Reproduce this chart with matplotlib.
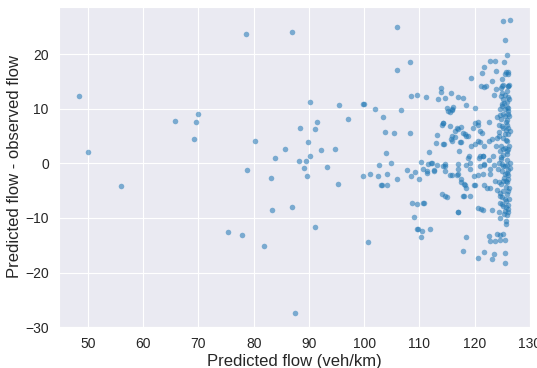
import matplotlib
matplotlib.use("Agg")
import matplotlib.pyplot as plt
import numpy as np
import seaborn as sns

# predicted flow (veh/km) and residual (predicted - observed)
pred_left = [48.4, 50.1, 56.0, 65.7, 70.0, 69.5, 69.2, 78.6, 80.2, 78.8, 75.4, 77.9, 81.9]
resid_left = [12.4, 2.1, -4.2, 7.8, 9.0, 7.6, 4.4, 23.6, 4.0, -1.2, -12.5, -13.2, -15.2]

pred_mid = [86.9, 105.9, 108.3, 106.0, 87.5, 90.2, 95.4, 99.7, 99.9, 101.9,
            106.6, 97.0, 103.4, 91.5, 91.1, 88.4, 103.8, 105.4, 108.3, 89.8,
            85.7, 92.2, 94.7, 103.9, 90.2, 83.8, 88.2, 89.5, 89.1, 93.2,
            102.7, 104.9, 83.2, 89.6, 99.8, 101.0, 102.5, 104.1, 106.0, 103.0,
            103.2, 104.1, 95.3, 83.4, 86.9, 91.1, 100.6, 107.7, 108.5, 109.2,
            110.3, 109.9, 110.7, 111.4, 112.1, 111.7, 112.7, 108.6, 109.5, 110.6,
            110.8, 109.1, 109.6, 109.8, 110.3, 110.4, 111.9, 108.5, 109.6, 111.2,
            111.6, 112.2, 111.3]
resid_mid = [24.0, 24.9, 18.5, 17.1, -27.4, 11.2, 10.6, 10.8, 10.8, 10.0,
             9.7, 8.1, 8.4, 7.5, 6.2, 6.4, 5.8, 5.5, 5.5, 3.9,
             2.7, 2.4, 2.7, 1.9, 1.3, 1.0, 0.4, 0.5, -0.9, -0.7,
             -0.3, 0.0, -2.6, -2.3, -2.3, -2.0, -2.4, -2.0, -2.9, -4.0,
             -4.0, -3.9, -3.7, -8.6, -8.0, -11.7, -14.4, -1.2, -2.4, -1.6,
             0.3, -2.9, -1.1, -1.7, 0.0, 2.0, -1.3, -7.2, -7.4, -7.2,
             -7.2, -9.8, -12.1, -12.1, -13.5, -12.4, -12.0, 12.4, 12.6, 12.2,
             -0.2, 0.1, -1.4]

pred_right = [122.7, 123.7, 121.7, 119.4, 121.4, 123.8, 123.1, 121.1, 121.6, 122.0,
              123.8, 113.9, 113.9, 114.7, 115.7, 117.0, 117.8, 113.3, 118.5, 120.0,
              114.9, 116.1, 115.9, 115.5, 120.1, 120.6, 122.5, 119.6, 114.3, 114.1,
              115.6, 116.7, 117.5, 113.1, 115.9, 116.4, 117.9, 118.5, 121.0, 121.4,
              114.3, 115.8, 117.6, 121.0, 121.6, 122.5, 123.2, 123.8, 117.2, 119.0,
              120.8, 120.9, 121.5, 119.1, 122.5, 123.3, 113.1, 114.3, 114.7, 117.0,
              118.5, 121.6, 121.7, 123.5, 115.5, 115.8, 116.7, 117.0, 119.9, 120.6,
              121.5, 122.8, 117.5, 118.0, 120.1, 121.7, 122.3, 122.8, 114.1, 114.7,
              118.1, 119.1, 120.6, 121.1, 123.2, 116.9, 118.4, 117.8, 120.5, 121.7,
              122.6, 122.8, 124.0, 123.7, 123.4, 123.2, 115.2, 115.8, 114.3, 117.0,
              116.4, 114.5, 115.7, 117.3, 118.2, 118.8, 120.6, 119.4, 120.0, 120.6,
              112.7, 114.6, 114.6, 117.0, 117.6, 118.2, 118.5, 119.1, 118.8, 119.9,
              120.9, 121.5, 114.9, 117.9, 117.0, 121.5, 122.8, 123.7, 113.0, 123.4]
resid_right = [18.8, 18.8, 17.7, 15.7, 16.5, 17.0, 15.0, 14.1, 13.9, 14.1,
               13.7, 13.8, 13.0, 11.9, 12.8, 12.2, 12.0, 11.8, 10.6, 10.2,
               10.2, 10.3, 9.8, 9.4, 7.3, 7.0, 7.5, 6.5, 7.3, 7.0,
               6.8, 6.5, 6.7, 5.2, 5.0, 4.8, 5.5, 5.0, 5.9, 5.6,
               3.5, 4.1, 3.9, 3.9, 3.2, 4.1, 4.4, 3.2, 2.3, 1.3,
               1.0, 1.3, 1.3, 0.1, 0.7, 1.3, -0.3, -0.4, -0.1, -0.2,
               -0.3, -0.3, -0.1, -0.3, -2.2, -2.2, -2.2, -2.0, -2.3, -2.2,
               -2.0, -2.0, -3.4, -3.7, -4.0, -4.0, -4.5, -4.5, -5.7, -6.0,
               -6.0, -5.9, -8.1, -8.4, -8.6, -8.9, -13.5, -16.0, -17.4, -16.3,
               -13.3, -14.3, -13.0, -14.3, -16.6, -17.6, 9.6, 9.9, 7.3, 6.2,
               5.9, 3.5, 4.4, 3.9, 5.3, 5.0, 7.5, 3.2, 3.5, 4.1,
               -1.4, -0.4, -1.4, -1.1, -2.9, -3.9, -4.5, -1.1, 1.0, -4.0,
               -0.5, -8.6, -6.1, -6.0, -9.0, 1.3, -1.0, -3.2, 3.7, 12.5]

# dense column near the capacity limit
pred_col = [125.1, 126.3, 125.5, 125.8, 125.3, 125.7, 126.0, 125.5, 126.0, 125.0,
            125.2, 126.0, 126.1, 124.8, 124.7, 125.2, 126.2, 125.5, 124.9, 126.0,
            125.8, 124.5, 125.5, 126.1, 125.2, 126.0, 125.0, 125.8, 124.9, 124.1,
            124.8, 125.5, 126.2, 125.9, 124.6, 124.4, 125.2, 125.9, 126.1, 124.9,
            125.6, 125.4, 124.4, 125.2, 126.0, 125.7, 124.0, 124.7, 125.4, 126.0,
            124.6, 125.9, 125.1, 126.2, 124.4, 126.3, 125.5, 124.9, 125.8, 125.2,
            125.9, 124.9, 125.8, 126.1, 125.4, 124.4, 125.2, 125.8, 126.1, 124.8,
            125.6, 124.1, 125.2, 126.1, 124.6, 125.5, 126.2, 125.9, 124.6, 125.2,
            126.1, 124.9, 125.7, 124.4, 125.4, 126.1, 124.6, 125.9, 125.7, 124.6,
            125.2, 125.5, 124.5, 125.4, 125.5, 126.2, 125.9, 125.0, 126.0, 125.3,
            124.3, 125.6, 126.3, 125.1, 124.7, 125.8, 126.0, 125.3, 124.2, 125.6,
            126.2, 125.0, 125.7, 124.5, 126.0, 125.3, 125.9, 124.8, 126.3, 125.6]
resid_col = [26.1, 26.2, 22.5, 19.9, 18.5, 16.7, 16.4, 16.3, 16.8, 14.1,
             14.4, 14.2, 14.1, 13.8, 12.4, 11.7, 11.7, 12.6, 12.9, 12.2,
             11.3, 9.9, 9.9, 10.2, 9.0, 9.0, 10.8, 10.4, 10.5, 8.4,
             8.1, 8.6, 8.6, 8.0, 8.9, 7.0, 6.5, 7.1, 6.4, 6.8,
             7.6, 5.3, 5.0, 4.7, 5.4, 4.3, 4.6, 3.2, 2.9, 2.6,
             2.3, 1.8, 2.7, 3.1, 0.1, 0.1, -0.5, -0.2, 0.6, -0.5,
             -0.3, -1.4, -1.7, -1.2, -1.9, -3.5, -3.2, -3.5, -2.9, -3.8,
             -3.3, -4.8, -5.1, -5.1, -6.0, -6.5, -6.6, -5.6, -7.2, -7.8,
             -7.6, -7.4, -8.0, -9.0, -8.7, -8.4, -10.0, -9.5, -11.2, -14.0,
             -12.9, -14.1, -13.2, -16.5, -18.2, 14.3, 13.3, 15.5, 9.6, 11.1,
             5.7, 6.1, 5.9, 1.5, 0.8, 2.2, -2.2, -2.6, -1.0, -4.3,
             -4.5, -6.2, -6.9, -5.4, -8.9, -9.3, 4.0, 1.1, -0.9, -10.5]

x = np.array(pred_left + pred_mid + pred_right + pred_col)
y = np.array(resid_left + resid_mid + resid_right + resid_col)

sns.set_style("darkgrid")
plt.rcParams['font.family'] = ['Liberation Sans', 'DejaVu Sans']

fig = plt.figure(figsize=(5.37, 3.68), dpi=100)
ax = fig.add_axes([0.109, 0.111, 0.878, 0.871])

ax.scatter(x, y, s=16, color="#1f77b4", alpha=0.55, linewidths=0)

ax.set_xlim(44.7, 130)
ax.set_ylim(-30, 28.7)
ax.set_xticks(range(50, 131, 10))
ax.set_yticks(range(-30, 21, 10))
ax.tick_params(labelsize=10)
ax.set_xlabel("Predicted flow (veh/km)", fontsize=12, labelpad=2)
ax.set_ylabel("Predicted flow - observed flow", fontsize=12, labelpad=2)

fig.savefig("out.png", dpi=100)
